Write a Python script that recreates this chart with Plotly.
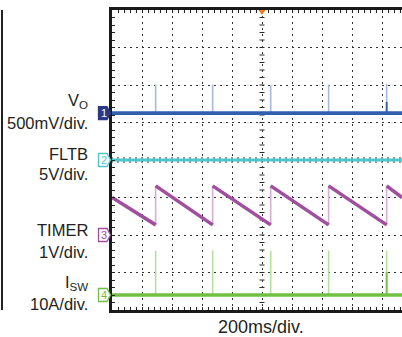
import numpy as np
import plotly.graph_objects as go

# ---------------- data ----------------
ms_per_div = 200
time_range_ms = [0, 1933.3]          # visible part of the 10-div screen
event_times_ms = [291, 671, 1058, 1444, 1831]

channel_names = ["V<sub>O</sub>", "FLTB", "TIMER", "I<sub>SW</sub>"]
channel_scales = ["500mV/div.", "5V/div.", "1V/div.", "10A/div."]
units_per_div = [0.5, 5.0, 1.0, 10.0]
ground_div = [1.25, 0.0, -2.0, -3.6]

vo_level_V = 0.0
vo_spike_V = [0.38, 0.38, 0.37, 0.38, 0.39]
vo_spike_core_V = [0, 0, 0, 0, 0.15]

fltb_level_V = 0.0

timer_t_ms = [0, 291, 291, 671, 671, 1058, 1058, 1444, 1444, 1831, 1831, 1933.3]
timer_V = [1.0, 0.27, 1.31, 0.27, 1.31, 0.27, 1.31, 0.27, 1.31, 0.27, 1.31, 1.0]

isw_level_A = 0.0
isw_spike_A = [11.8, 11.9, 11.8, 11.8, 11.8]
isw_spike_core_A = [0, 0, 0, 0, 6.1]

# ---------------- styling ----------------
C_BLUE, C_BLUE_L = "#2f5fae", "#a3b9df"
C_CYAN = "#4cc8cc"
C_PURP, C_PURP_L = "#a04f9f", "#d8aed6"
C_GREEN, C_GREEN_L = "#72bf44", "#b5e09c"
C_NAVY = "#2b3a86"
TXT = "#231f20"
ch_colors = [C_NAVY, C_CYAN, C_PURP, C_GREEN]
FONT = "Liberation Sans, Arial, sans-serif"


def to_div(ch, v):
    return ground_div[ch] + v / units_per_div[ch]


def spikes(ch, level, peaks):
    xs, ys = [], []
    for t, p in zip(event_times_ms, peaks):
        if p == 0:
            continue
        xs += [t, t, None]
        ys += [to_div(ch, level), to_div(ch, level + p), None]
    return xs, ys


fig = go.Figure()

# VO
sx, sy = spikes(0, vo_level_V, vo_spike_V)
fig.add_trace(go.Scatter(x=sx, y=sy, mode="lines", line=dict(color=C_BLUE_L, width=1.6), hoverinfo="skip"))
fig.add_trace(go.Scatter(x=time_range_ms, y=[to_div(0, vo_level_V)] * 2, mode="lines",
                         line=dict(color=C_BLUE, width=3.6), hoverinfo="skip"))
sx, sy = spikes(0, vo_level_V, vo_spike_core_V)
fig.add_trace(go.Scatter(x=sx, y=sy, mode="lines", line=dict(color=C_BLUE, width=1.8), hoverinfo="skip"))

# FLTB
fig.add_trace(go.Scatter(x=time_range_ms, y=[to_div(1, fltb_level_V)] * 2, mode="lines",
                         line=dict(color=C_CYAN, width=3.2), hoverinfo="skip"))

# TIMER sawtooth: thin light full outline, thick ramps on top
ty = [to_div(2, v) for v in timer_V]
fig.add_trace(go.Scatter(x=timer_t_ms, y=ty, mode="lines", line=dict(color=C_PURP_L, width=1.6), hoverinfo="skip"))
rx, ry = [], []
for i in range(0, len(timer_t_ms), 2):
    rx += [timer_t_ms[i], timer_t_ms[i + 1], None]
    ry += [ty[i], ty[i + 1], None]
fig.add_trace(go.Scatter(x=rx, y=ry, mode="lines", line=dict(color=C_PURP, width=3.6), hoverinfo="skip"))

# ISW
sx, sy = spikes(3, isw_level_A, isw_spike_A)
fig.add_trace(go.Scatter(x=sx, y=sy, mode="lines", line=dict(color=C_GREEN_L, width=1.6), hoverinfo="skip"))
fig.add_trace(go.Scatter(x=time_range_ms, y=[to_div(3, isw_level_A)] * 2, mode="lines",
                         line=dict(color=C_GREEN, width=3.6), hoverinfo="skip"))
sx, sy = spikes(3, isw_level_A, isw_spike_core_A)
fig.add_trace(go.Scatter(x=sx, y=sy, mode="lines", line=dict(color=C_GREEN, width=1.8), hoverinfo="skip"))

W, H = 402, 337
L, T, B = 112, 10, 27
PW, PH = W - L, H - T - B
ms_per_px = (time_range_ms[1] - time_range_ms[0]) / PW
div_per_px = 8.0 / PH


def px_x(px):
    return (px - L) / PW


def px_y(py):
    return (H - B - py) / PH


shapes = []
# center crosshair ticks
center_t = 5 * ms_per_div
for t in np.arange(0, time_range_ms[1], ms_per_div / 5):
    shapes.append(dict(type="line", xref="x", yref="y", x0=t, x1=t, y0=-3 * div_per_px, y1=3 * div_per_px,
                       line=dict(color="#2a2a2a", width=1), layer="below"))
for v in np.arange(-4, 4.01, 0.2):
    shapes.append(dict(type="line", xref="x", yref="y", x0=center_t - 2.5 * ms_per_px, x1=center_t + 2.5 * ms_per_px,
                       y0=v, y1=v, line=dict(color="#2a2a2a", width=1), layer="below"))
# trigger marker
shapes.append(dict(type="path", xref="x", yref="paper",
                   path=f"M {center_t - 3.5 * ms_per_px},1 L {center_t + 3.5 * ms_per_px},1 L {center_t},{1 - 5 / PH} Z",
                   fillcolor="#f47b20", line=dict(width=0)))
# neighbouring panel edge
shapes.append(dict(type="line", xref="paper", yref="paper", x0=px_x(2), x1=px_x(2), y0=0, y1=1,
                   line=dict(color="#222", width=2)))

annotations = []
# channel badges
for i in range(4):
    y0 = ground_div[i]
    hh = 6.5 * div_per_px
    xa, xb, xc = px_x(98.5), px_x(107), px_x(110.5)
    path = f"M {xa},{y0 - hh} L {xb},{y0 - hh} L {xc},{y0} L {xb},{y0 + hh} L {xa},{y0 + hh} Z"
    filled = i == 0
    shapes.append(dict(type="path", xref="paper", yref="y", path=path,
                       fillcolor=C_NAVY if filled else "white",
                       line=dict(color=ch_colors[i], width=1.3)))
    annotations.append(dict(x=px_x(103.5), y=y0, xref="paper", yref="y", text=str(i + 1), showarrow=False,
                            font=dict(family=FONT, size=11, color="white" if filled else ch_colors[i]),
                            xanchor="center", yanchor="middle"))

# channel labels
name_y = [101, 154, 229.5, 283]
scale_y = [123, 174, 252, 304]
for i in range(4):
    annotations.append(dict(x=px_x(90), y=px_y(name_y[i]), xref="paper", yref="paper", text=channel_names[i],
                            showarrow=False, xanchor="right", yanchor="middle",
                            font=dict(family=FONT, size=16.5, color=TXT)))
    annotations.append(dict(x=px_x(90), y=px_y(scale_y[i]), xref="paper", yref="paper", text=channel_scales[i],
                            showarrow=False, xanchor="right", yanchor="middle",
                            font=dict(family=FONT, size=16.5, color=TXT)))
annotations.append(dict(x=px_x(261), y=px_y(327), xref="paper", yref="paper", text="200ms/div.",
                        showarrow=False, xanchor="center", yanchor="middle",
                        font=dict(family=FONT, size=18, color=TXT)))

grid = dict(showgrid=True, gridcolor="#333", gridwidth=1.3, griddash="1.5px,4.5px")
fig.update_layout(
    width=W, height=H, margin=dict(l=L, r=0, t=T, b=B),
    paper_bgcolor="white", plot_bgcolor="white", showlegend=False,
    xaxis=dict(range=time_range_ms, dtick=ms_per_div, tick0=0, showticklabels=False, zeroline=False,
               showline=True, linecolor="#1a1a1a", linewidth=2.5, mirror="ticks",
               ticks="inside", ticklen=3, tickcolor="#222",
               minor=dict(dtick=ms_per_div / 5, ticks="inside", ticklen=3, tickcolor="#222", showgrid=False),
               **grid),
    yaxis=dict(range=[-4, 4], dtick=1, tick0=0, showticklabels=False, zeroline=False,
               showline=True, linecolor="#1a1a1a", linewidth=2.5,
               ticks="inside", ticklen=3, tickcolor="#222",
               minor=dict(dtick=0.2, ticks="inside", ticklen=3, tickcolor="#222", showgrid=False),
               **grid),
    shapes=shapes, annotations=annotations,
)

fig.write_html("out.html", config={"displayModeBar": False},
               post_script="document.body.style.margin='0';document.body.style.overflow='hidden';")
